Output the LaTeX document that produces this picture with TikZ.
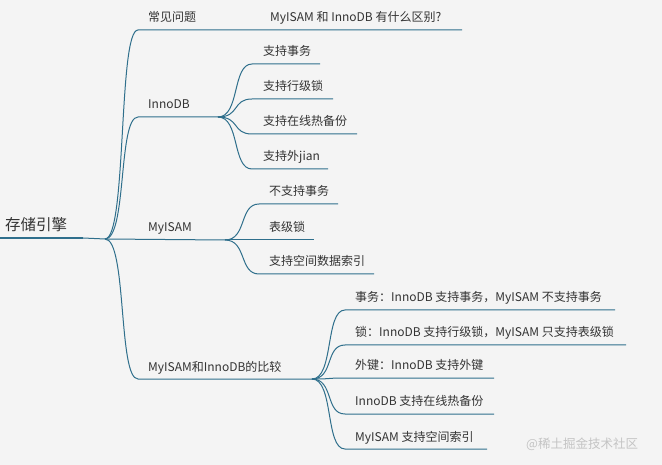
\documentclass[tikz,border=0pt]{standalone}
\usepackage{fontspec}
\usepackage{tikz}
\newfontfamily\cjk{Noto Sans CJK SC}
\definecolor{linecol}{HTML}{2F6F8C}
\definecolor{textcol}{HTML}{333333}
\definecolor{bgcol}{HTML}{F4F4F4}
\definecolor{markcol}{HTML}{C4C4C4}
\tikzset{
  branch/.style = {draw = linecol, line width = 1pt},
  topic/.style = {anchor = base west, inner sep = 0pt, text = textcol,
    font = \cjk\fontsize{12}{14}\selectfont}
}

\begin{document}
\begin{tikzpicture}[x = 1pt, y = -1pt]
  \fill [bgcol] (0, 0) rectangle (662, 465);
  \useasboundingbox (0, 0) rectangle (662, 465);
  % root
  \node [topic, font = \cjk\fontsize{15.5}{17}\selectfont] (ROOT) at (5, 231) {存储引擎};
  \coordinate (RS) at (0, 238);
  \coordinate (RE) at (83, 238);
  \coordinate (O) at (105, 239);
  \draw [branch, line width = 2pt] (RS) -- (RE);
  \draw [branch] (RE) -- (O);
  % first level
  \node [topic] (Q) at (148, 22) {常见问题};
  \node [topic] (QA) at (270, 22) {MyISAM 和 InnoDB 有什么区别?};
  \node [topic] (INNO) at (148, 109) {InnoDB};
  \node [topic] (MY) at (148, 232) {MyISAM};
  \node [topic] (CMP) at (148, 371) {MyISAM和InnoDB的比较};
  \coordinate (QS) at (138, 30);
  \coordinate (QE) at (462, 30);
  \coordinate (INNOS) at (138, 117);
  \coordinate (INNOE) at (218, 117);
  \coordinate (MYE) at (225, 240);
  \coordinate (CMPS) at (138, 379);
  \coordinate (CMPE) at (312, 379);
  \draw [branch] (O) .. controls +(22, 0) and +(-20, 0) .. (QS) -- (QE);
  \draw [branch] (O) .. controls +(22, 0) and +(-20, 0) .. (INNOS) -- (INNOE);
  \draw [branch] (O) -- (MYE);
  \draw [branch] (O) .. controls +(22, 0) and +(-20, 0) .. (CMPS) -- (CMPE);
  % InnoDB
  \node [topic] (I1) at (263, 56) {支持事务};
  \node [topic] (I2) at (263, 91) {支持行级锁};
  \node [topic] (I3) at (263, 126) {支持在线热备份};
  \node [topic] (I4) at (263, 161) {支持外jian};
  \coordinate (I1S) at (252, 64);
  \coordinate (I1E) at (320, 64);
  \coordinate (I2S) at (252, 99);
  \coordinate (I2E) at (333, 99);
  \coordinate (I3S) at (252, 134);
  \coordinate (I3E) at (357, 134);
  \coordinate (I4S) at (252, 169);
  \coordinate (I4E) at (328, 169);
  \draw [branch] (INNOE) .. controls +(22, 0) and +(-20, 0) .. (I1S) -- (I1E);
  \draw [branch] (INNOE) .. controls +(22, 0) and +(-20, 0) .. (I2S) -- (I2E);
  \draw [branch] (INNOE) .. controls +(22, 0) and +(-20, 0) .. (I3S) -- (I3E);
  \draw [branch] (INNOE) .. controls +(22, 0) and +(-20, 0) .. (I4S) -- (I4E);
  % MyISAM
  \node [topic] (M1) at (269, 196) {不支持事务};
  \node [topic] (M2) at (269, 232) {表级锁};
  \node [topic] (M3) at (269, 266) {支持空间数据索引};
  \coordinate (M1S) at (259, 204);
  \coordinate (M1E) at (338, 204);
  \coordinate (M2E) at (314, 240);
  \coordinate (M3S) at (259, 274);
  \coordinate (M3E) at (374, 274);
  \draw [branch] (MYE) .. controls +(22, 0) and +(-20, 0) .. (M1S) -- (M1E);
  \draw [branch] (MYE) -- (M2E);
  \draw [branch] (MYE) .. controls +(22, 0) and +(-20, 0) .. (M3S) -- (M3E);
  % comparison
  \node [topic] (C1) at (355, 302) {事务：InnoDB 支持事务，MyISAM 不支持事务};
  \node [topic] (C2) at (355, 337) {锁：InnoDB 支持行级锁，MyISAM 只支持表级锁};
  \node [topic] (C3) at (355, 370) {外键：InnoDB 支持外键};
  \node [topic] (C4) at (355, 406) {InnoDB 支持在线热备份};
  \node [topic] (C5) at (355, 441) {MyISAM 支持空间索引};
  \coordinate (C1S) at (345, 310);
  \coordinate (C1E) at (615, 310);
  \coordinate (C2S) at (345, 345);
  \coordinate (C2E) at (626, 345);
  \coordinate (C3S) at (345, 378);
  \coordinate (C3E) at (494, 378);
  \coordinate (C4S) at (345, 414);
  \coordinate (C4E) at (494, 414);
  \coordinate (C5S) at (345, 449);
  \coordinate (C5E) at (487, 449);
  \draw [branch] (CMPE) .. controls +(22, 0) and +(-20, 0) .. (C1S) -- (C1E);
  \draw [branch] (CMPE) .. controls +(22, 0) and +(-20, 0) .. (C2S) -- (C2E);
  \draw [branch] (CMPE) .. controls +(22, 0) and +(-20, 0) .. (C3S) -- (C3E);
  \draw [branch] (CMPE) .. controls +(22, 0) and +(-20, 0) .. (C4S) -- (C4E);
  \draw [branch] (CMPE) .. controls +(22, 0) and +(-20, 0) .. (C5S) -- (C5E);
  % watermark
  \node [topic, text = markcol, font = \cjk\fontsize{12.5}{14}\selectfont] (WM) at (526, 448) {@稀土掘金技术社区};
\end{tikzpicture}
\end{document}
